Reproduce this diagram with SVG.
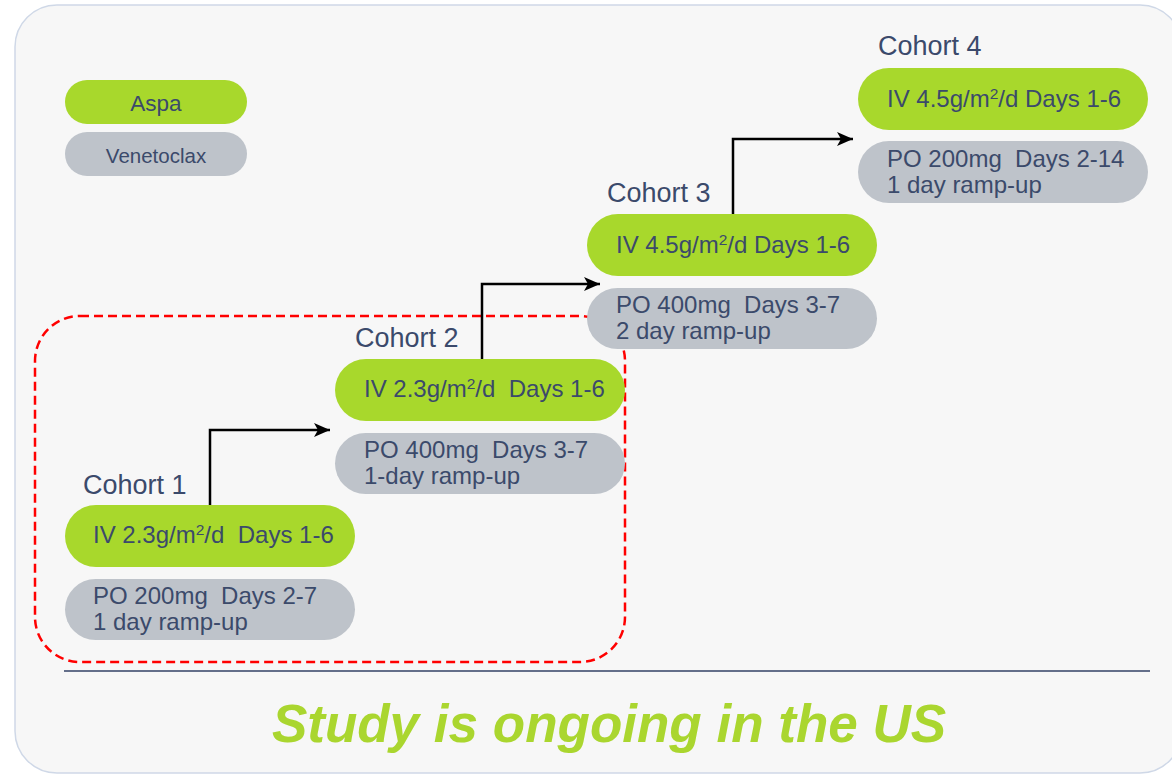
<svg xmlns="http://www.w3.org/2000/svg" width="1172" height="774" viewBox="0 0 1172 774">
<defs>
<style>
.bg{fill:#f7f7f7;stroke:#cfd8e7;stroke-width:1.5}
.g{fill:#a8d82c}
.s{fill:#bec3ca}
.t{font-family:"Liberation Sans",Arial,sans-serif;fill:#3b4a6b;font-size:24px}
.c{font-family:"Liberation Sans",Arial,sans-serif;fill:#3b4a6b;font-size:27px}
.sup{font-size:15.5px}
.conn{fill:none;stroke:#000;stroke-width:2.5}
</style>
<marker id="ah" markerUnits="userSpaceOnUse" markerWidth="18" markerHeight="16" refX="16" refY="7" orient="auto">
<path d="M0,0 L16,7 L0,14 L4,7 z" fill="#000"/>
</marker>
</defs>
<rect class="bg" x="15" y="5" width="1167" height="768" rx="42"/>
<g id="legend-aspa"><rect class="g" x="65" y="80" width="182" height="44" rx="22"/><text class="t" x="156" y="111" text-anchor="middle" style="font-size:22.5px">Aspa</text></g>
<g id="legend-venetoclax"><rect class="s" x="65" y="132" width="182" height="44" rx="22"/><text class="t" x="156" y="163" text-anchor="middle" style="font-size:20.5px">Venetoclax</text></g>
<g id="red-box"><rect x="35" y="316" width="590" height="346" rx="45" fill="none" stroke="#ff0000" stroke-width="2.5" stroke-dasharray="9,5"/></g>
<g id="cohort1">
<text class="c" x="83" y="494">Cohort 1</text>
<rect class="g" x="65" y="505" width="290" height="62" rx="31"/>
<text class="t" x="93" y="543" xml:space="preserve">IV 2.3g/m<tspan class="sup" dy="-8">2</tspan><tspan dy="8">/d  Days 1-6</tspan></text>
<rect class="s" x="65" y="579" width="290" height="61" rx="30.5"/>
<text class="t" x="93" y="604" xml:space="preserve">PO 200mg  Days 2-7</text>
<text class="t" x="93" y="630">1 day ramp-up</text>
</g>
<g id="cohort2">
<text class="c" x="355" y="347">Cohort 2</text>
<rect class="g" x="335" y="359" width="290" height="62" rx="31"/>
<text class="t" x="364" y="397" xml:space="preserve">IV 2.3g/m<tspan class="sup" dy="-8">2</tspan><tspan dy="8">/d  Days 1-6</tspan></text>
<rect class="s" x="335" y="433" width="290" height="61" rx="30.5"/>
<text class="t" x="364" y="458" xml:space="preserve">PO 400mg  Days 3-7</text>
<text class="t" x="364" y="484">1-day ramp-up</text>
</g>
<g id="cohort3">
<text class="c" x="607" y="202">Cohort 3</text>
<rect class="g" x="587" y="214" width="290" height="62" rx="31"/>
<text class="t" x="616" y="253">IV 4.5g/m<tspan class="sup" dy="-8">2</tspan><tspan dy="8">/d Days 1-6</tspan></text>
<rect class="s" x="587" y="288" width="290" height="61" rx="30.5"/>
<text class="t" x="616" y="313" xml:space="preserve">PO 400mg  Days 3-7</text>
<text class="t" x="616" y="339">2 day ramp-up</text>
</g>
<g id="cohort4">
<text class="c" x="878" y="55">Cohort 4</text>
<rect class="g" x="858" y="68" width="290" height="62" rx="31"/>
<text class="t" x="887" y="107">IV 4.5g/m<tspan class="sup" dy="-8">2</tspan><tspan dy="8">/d Days 1-6</tspan></text>
<rect class="s" x="858" y="141" width="290" height="62" rx="31"/>
<text class="t" x="887" y="167" xml:space="preserve">PO 200mg  Days 2-14</text>
<text class="t" x="887" y="193">1 day ramp-up</text>
</g>
<g id="connectors">
<path class="conn" d="M210,505 V430 H330" marker-end="url(#ah)"/>
<path class="conn" d="M482,359 V284 H600" marker-end="url(#ah)"/>
<path class="conn" d="M733,214 V139 H853" marker-end="url(#ah)"/>
</g>
<line x1="64" y1="671" x2="1150" y2="671" stroke="#646f8a" stroke-width="2"/>
<text x="609" y="742" text-anchor="middle" font-family="'Liberation Sans',Arial,sans-serif" font-size="53" font-weight="bold" font-style="italic" fill="#aad62f">Study is ongoing in the US</text>
</svg>
